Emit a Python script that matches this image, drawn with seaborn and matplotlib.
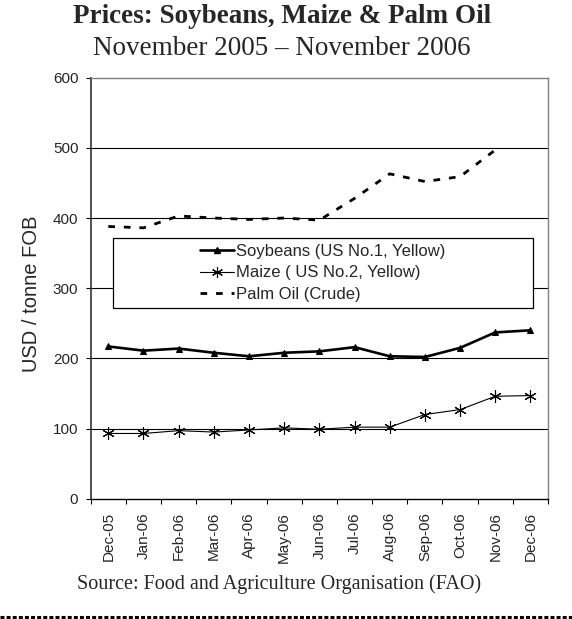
import numpy as np
import pandas as pd
import matplotlib
matplotlib.use("Agg")
import matplotlib.pyplot as plt
from matplotlib.lines import Line2D
from matplotlib.patches import Rectangle
import seaborn as sns

months = ["Dec-05", "Jan-06", "Feb-06", "Mar-06", "Apr-06", "May-06", "Jun-06",
          "Jul-06", "Aug-06", "Sep-06", "Oct-06", "Nov-06", "Dec-06"]
soybeans = [217, 211, 214, 208, 203, 208, 210, 216, 203, 202, 215, 237, 240]
maize = [93, 93, 97, 95, 98, 101, 99, 102, 102, 120, 127, 146, 147]
palm_oil = [388, 386, 403, 400, 398, 400, 397, 428, 463, 452, 459, 497, np.nan]
y_ticks = [0, 100, 200, 300, 400, 500, 600]

title = "Prices: Soybeans, Maize & Palm Oil"
subtitle = "November 2005 \u2013 November 2006"
ylabel = "USD / tonne FOB"
source = "Source: Food and Agriculture Organisation (FAO)"
labels = ["Soybeans (US No.1, Yellow)", "Maize ( US No.2, Yellow)", "Palm Oil (Crude)"]

sns.set_style("white")
plt.rcParams["font.family"] = ["Liberation Sans", "DejaVu Sans"]

idx = np.arange(len(months))
df = pd.DataFrame({"idx": idx, "soy": soybeans, "maize": maize, "palm": palm_oil})

fig = plt.figure(figsize=(5.72, 6.19), dpi=100)
ax = fig.add_axes([0.1586, 0.1943, 0.7995, 0.6802])

# gridlines
for yv in y_ticks[1:-1]:
    ax.axhline(yv, color="black", lw=0.8, zorder=1)

sns.lineplot(data=df, x="idx", y="soy", ax=ax, color="black", lw=1.9,
             marker="^", markersize=5, markeredgecolor="black", zorder=4)
sns.lineplot(data=df, x="idx", y="maize", ax=ax, color="black", lw=0.8,
             marker=(6, 2, 0), markersize=9, markeredgewidth=0.8,
             markeredgecolor="black", zorder=4)
sns.lineplot(data=df, x="idx", y="palm", ax=ax, color="black", lw=2.0,
             linestyle=(0, (2.4, 3.2)), zorder=4)

ax.set_xlim(-0.5, len(months) - 0.5)
ax.set_ylim(0, 600)
ax.set_yticks(y_ticks)
ax.set_yticklabels([str(v) for v in y_ticks], fontsize=11)
ax.set_xticks(idx)
ax.set_xticklabels(months, rotation=90, fontsize=11)
ax.set_xticks(np.arange(-0.5, len(months), 1.0), minor=True)
ax.tick_params(axis="x", which="major", length=0, pad=9.6)
ax.tick_params(axis="x", which="minor", length=5 * 0.72, width=0.8, direction="out",
               color="black", bottom=True)
ax.tick_params(axis="y", which="major", length=5 * 0.72, width=0.8, direction="out",
               pad=5.3, left=True, color="black")
ax.set_xlabel("")
ax.set_ylabel(ylabel, fontsize=14.5)
ax.yaxis.set_label_coords(-0.109, 0.487)

for side in ["top", "right"]:
    ax.spines[side].set_color("#808080")
    ax.spines[side].set_linewidth(1.0)
ax.spines["left"].set_color("#333333")
ax.spines["left"].set_linewidth(1.2)
ax.spines["bottom"].set_color("black")
ax.spines["bottom"].set_linewidth(1.0)

# legend box
rect = Rectangle((0.0488, 0.453), 0.967 - 0.0488, 0.620 - 0.453,
                 transform=ax.transAxes, facecolor="white", edgecolor="black",
                 lw=0.9, zorder=5)
ax.add_patch(rect)
handles = [
    Line2D([], [], color="black", lw=1.9, marker="^", markersize=5),
    Line2D([], [], color="black", lw=0.8, marker=(6, 2, 0), markersize=8,
           markeredgewidth=0.8),
    Line2D([], [], color="black", lw=2.0, linestyle=(0, (2.4, 3.2))),
]
leg = ax.legend(handles, labels, loc="center", bbox_to_anchor=(0.508, 0.5365),
                frameon=False, fontsize=12, handlelength=2.04, handletextpad=0.12,
                labelspacing=0.4, borderpad=0)
leg.set_zorder(6)

fig.text(0.493, 1 - 22.7 / 619, title, ha="center", va="baseline",
         fontsize=19.5, fontweight="bold", family=["Liberation Serif", "DejaVu Serif"])
fig.text(0.493, 1 - 55 / 619, subtitle, ha="center", va="baseline",
         fontsize=19.5, family=["Liberation Serif", "DejaVu Serif"])
fig.text(76.7 / 572, 1 - 589 / 619, source, ha="left", va="baseline",
         fontsize=14.5, family=["Liberation Serif", "DejaVu Serif"])

fig.add_artist(Line2D([0, 1], [1 - 617 / 619, 1 - 617 / 619], transform=fig.transFigure,
                      color="black", lw=2.2, linestyle=(0, (1.3, 0.7))))

fig.savefig("out.png", dpi=100)
